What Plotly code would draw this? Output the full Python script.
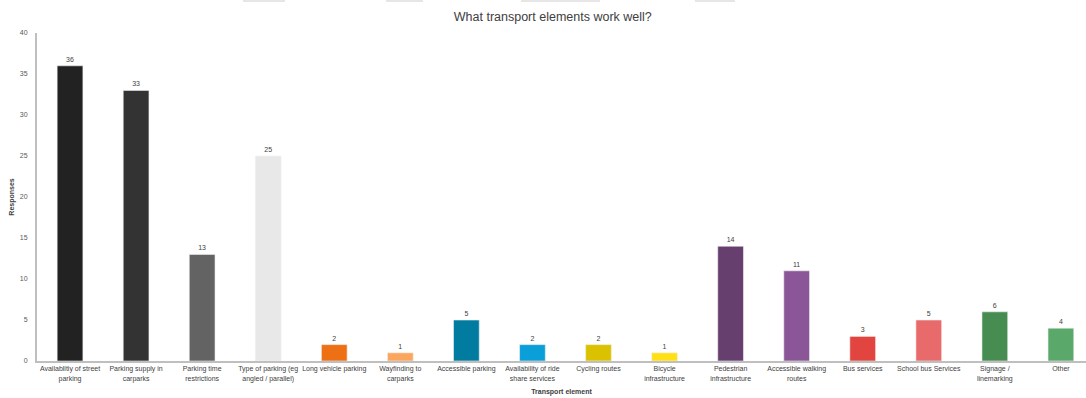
import plotly.graph_objects as go

categories = [
    "Availablitiy of street<br>parking",
    "Parking supply in<br>carparks",
    "Parking time<br>restrictions",
    "Type of parking (eg<br>angled / parallel)",
    "Long vehicle parking",
    "Wayfinding to<br>carparks",
    "Accessible parking",
    "Availability of ride<br>share services",
    "Cycling routes",
    "Bicycle<br>infrastructure",
    "Pedestrian<br>infrastructure",
    "Accessible walking<br>routes",
    "Bus services",
    "School bus Services",
    "Signage /<br>linemarking",
    "Other",
]
responses = [36, 33, 13, 25, 2, 1, 5, 2, 2, 1, 14, 11, 3, 5, 6, 4]
bar_colors = [
    "#222222", "#333333", "#636363", "#e8e8e8", "#ed7014", "#fca55d",
    "#017ba0", "#0a9fd8", "#dbc200", "#ffe015", "#673f6e", "#8b5697",
    "#e2453f", "#e96a6a", "#478c51", "#5aa86a",
]
y_ticks = [0, 5, 10, 15, 20, 25, 30, 35, 40]

FONT = "Liberation Sans"

fig = go.Figure(
    go.Bar(
        x=list(range(len(categories))),
        y=responses,
        marker=dict(color=bar_colors, line=dict(color="#f2f2f2", width=0.6)),
        width=0.39,
        text=[str(v) for v in responses],
        textposition="outside",
        textfont=dict(family=FONT, size=7, color="#404040"),
        cliponaxis=False,
        hoverinfo="x+y",
    )
)

fig.update_layout(
    width=1086,
    height=398,
    margin=dict(l=37, r=0, t=33, b=37, autoexpand=False),
    paper_bgcolor="white",
    plot_bgcolor="white",
    showlegend=False,
    title=dict(
        text="What transport elements work well?",
        x=0.509, xanchor="center", y=0.957, yanchor="middle",
        font=dict(family=FONT, size=12.5, color="#404040"),
    ),
    font=dict(family=FONT, size=7, color="#595959"),
    xaxis=dict(
        tickmode="array",
        tickvals=list(range(len(categories))),
        ticktext=categories,
        range=[-0.5, 15.38],
        automargin=False,
        showline=True, linecolor="#bfbfbf", linewidth=2,
        showgrid=False, ticks="", zeroline=False,
        tickfont=dict(family=FONT, size=7, color="#404040"),
        title=dict(text="<b>Transport element</b>",
                   font=dict(family=FONT, size=7, color="#404040"),
                   standoff=8),
    ),
    yaxis=dict(
        range=[0, 40],
        tickmode="array",
        tickvals=y_ticks,
        automargin=False,
        showline=True, linecolor="#bfbfbf", linewidth=2,
        showgrid=False, ticks="", zeroline=False,
        ticklabelstandoff=6,
        tickfont=dict(family=FONT, size=7, color="#595959"),
        title=dict(text="<b>Responses</b>",
                   font=dict(family=FONT, size=7, color="#404040"),
                   standoff=4),
    ),
)

# faint header boxes cut off at the top edge of the image
for x0, x1 in [(243, 285), (386, 423), (521, 600), (695, 735)]:
    fig.add_shape(
        type="rect", xref="paper", yref="paper",
        x0=(x0 - 37) / 1049, x1=(x1 - 37) / 1049,
        y0=1 + 31 / 328, y1=1 + 34 / 328,
        fillcolor="#e6e6e6", line=dict(width=0), layer="above",
    )

fig.write_html(
    "out.html",
    config={"displayModeBar": False},
    post_script="document.body.style.margin='0';document.body.style.padding='0';",
)
